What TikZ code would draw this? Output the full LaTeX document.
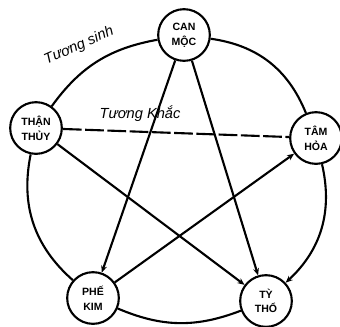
\documentclass[tikz,border=0pt]{standalone}
\usepackage{fontspec}
\setmainfont{Liberation Sans}
\usetikzlibrary{arrows.meta}

\begin{document}
\begin{tikzpicture}[x=0.03cm,y=-0.03cm]
\tikzstyle{hanh}=[circle,draw,line width=1.8pt,minimum size=1.55cm,inner sep=0pt,align=center,fill=white,font=\fontsize{9}{12.5}\selectfont\bfseries]
\tikzstyle{net}=[line width=1.8pt,black]
\tikzstyle{tip}=[-{Stealth[length=6pt,width=5pt]}]
\tikzstyle{nhan}=[font=\fontsize{12.5}{14}\selectfont\itshape,inner sep=0pt]

	\useasboundingbox (0,0) rectangle (340,326);

	\node[hanh] (moc) at (184,35) {CAN\\MỘC};
	\node[hanh] (thuy) at (36,128) {THẬN\\THỦY};
	\node[hanh] (hoa) at (316,138) {TÂM\\HỎA};
	\node[hanh] (kim) at (93,298) {PHẾ\\KIM};
	\node[hanh] (tho) at (266,301) {TỲ\\THỔ};

	% vong tuong sinh
	\draw [net] (moc) to[bend left=30] (hoa);
	\draw [net,tip] (hoa) to[bend left=30] (tho);
	\draw [net] (tho) to[bend left=22] (kim);
	\draw [net] (kim) to[bend left=30] (thuy);
	\draw [net] (thuy) to[bend left=22] (moc);
	
	% ngoi sao tuong khac
	\draw [net,tip] (moc) -- (kim);
	\draw [net,tip] (moc) -- (tho);
	\draw [net,tip] (thuy) -- (tho);
	\draw [net,tip] (kim) -- (hoa);
	\draw [net,dash pattern=on 16pt off 3pt] (thuy) -- (hoa);

	\node[nhan,rotate=24] (sinh) at (79,46) {Tương sinh};
	\node[nhan] (khac) at (140,114) {Tương Khắc};

\end{tikzpicture}
\end{document}
